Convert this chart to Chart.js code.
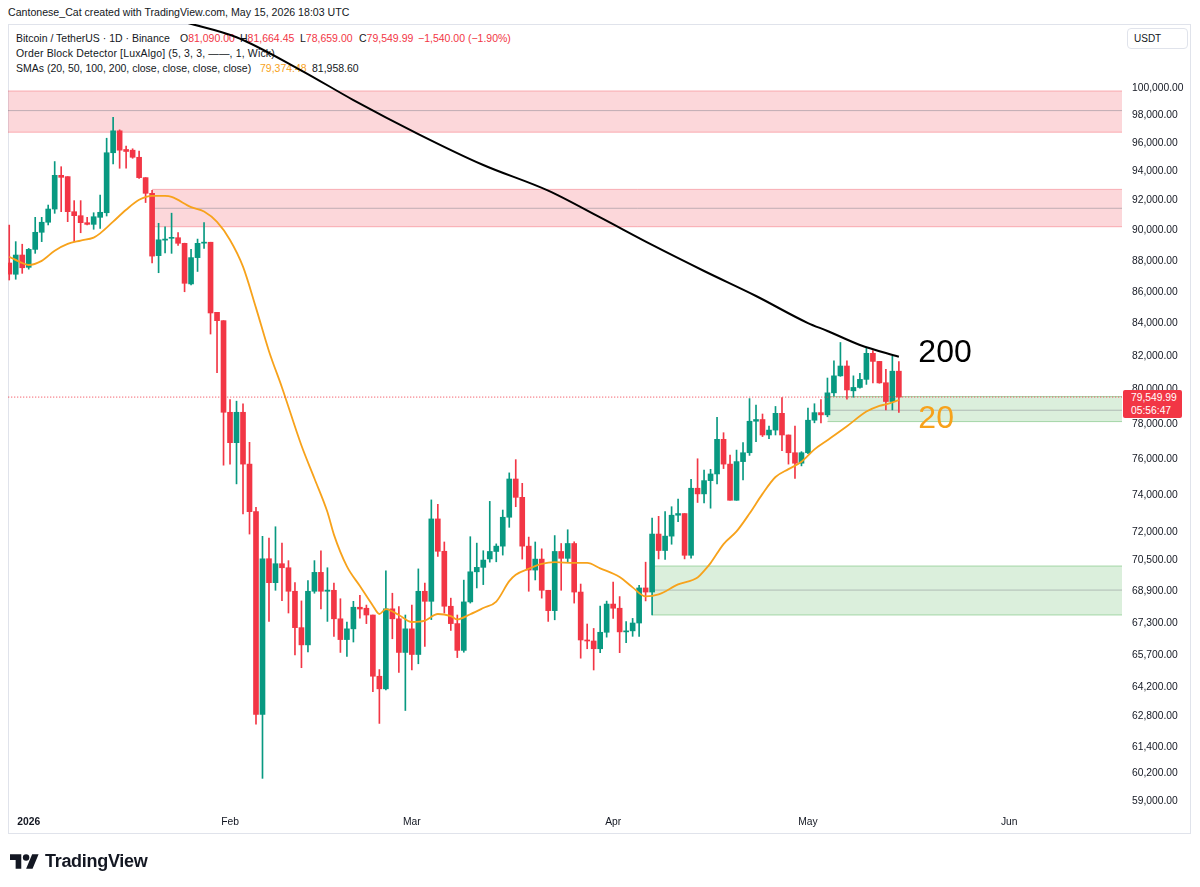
<!DOCTYPE html>
<html>
<head>
<meta charset="utf-8">
<script src="https://cdn.jsdelivr.net/npm/chart.js@4.4.1/dist/chart.umd.min.js"></script>
<style>
html,body{margin:0;padding:0;background:#fff;}
#wrap{position:relative;width:1200px;height:887px;overflow:hidden;font-family:"Liberation Sans",Arial,sans-serif;color:#131722;background:#fff;}
.abs{position:absolute;white-space:nowrap;}
#frame{position:absolute;left:8px;top:24px;width:1183px;height:810px;box-sizing:border-box;border:1px solid #e0e3eb;z-index:0;}
#c{position:absolute;left:0;top:0;z-index:1;}
.under{z-index:0;}
.over{z-index:2;}
.leg{font-size:10.5px;line-height:14px;}
.r{color:#f23645;}
#tag{background:#f23645;color:#fff;font-size:10.3px;line-height:13px;width:59px;height:28px;border-radius:2px;padding:1px 0 0 8px;box-sizing:border-box;}
#usdt{left:1127px;top:28px;width:61px;height:21px;box-sizing:border-box;border:1px solid #e0e3eb;border-radius:4px;font-size:10px;line-height:19px;padding-left:6px;background:#fff;}
</style>
</head>
<body>
<div id="wrap">
  <div class="abs under" style="left:8px;top:5px;font-size:10.6px;line-height:14px;">Cantonese_Cat created with TradingView.com, May 15, 2026 18:03 UTC</div>
  <div id="frame"></div>
  <div class="abs under leg" style="left:16px;top:31px;">Bitcoin / TetherUS · 1D · Binance</div>
  <div class="abs under leg" style="left:180px;top:31px;">O<span class="r" id="vO"></span></div>
  <div class="abs under leg" style="left:240px;top:31px;">H<span class="r" id="vH"></span></div>
  <div class="abs under leg" style="left:300px;top:31px;">L<span class="r" id="vL"></span></div>
  <div class="abs under leg" style="left:359px;top:31px;">C<span class="r" id="vC"></span></div>
  <div class="abs under leg r" style="left:418px;top:31px;" id="vChg"></div>
  <div class="abs under leg" style="left:16px;top:46px;letter-spacing:0.15px;">Order Block Detector [LuxAlgo] (5, 3, 3, ——, 1, Wick)</div>
  <div class="abs under leg" style="left:16px;top:61px;">SMAs (20, 50, 100, 200, close, close, close, close)</div>
  <div class="abs under leg" style="left:260px;top:61px;color:#f7a21b;" id="vS20"></div>
  <div class="abs under leg" style="left:312px;top:61px;" id="vS200"></div>
  <canvas id="c" width="1200" height="887"></canvas>
  <div class="abs over" id="usdt">USDT</div>
  <div class="abs over" id="tag"><div id="tagPrice"></div><div>05:56:47</div></div>
  <div class="abs over" id="ann0" style="font-size:32px;line-height:32px;"></div>
  <div class="abs over" id="ann1" style="font-size:32px;line-height:32px;"></div>
  <div class="abs over" style="left:10px;top:851px;display:flex;align-items:center;">
    <svg width="29" height="15" viewBox="0 4 36 18" style="margin-right:6px;"><path fill="#131722" d="M14 22H7V11H0V4h14v18zM28 22h-8l7.5-18h8L28 22z"/><circle fill="#131722" cx="20" cy="8" r="4"/></svg>
    <span style="font-size:18px;font-weight:bold;letter-spacing:-0.3px;line-height:20px;">TradingView</span>
  </div>
</div>
<script>
// ---------- DATA ----------
const dates = [
'2025-12-29','2025-12-30','2025-12-31',
'2026-01-01','2026-01-02','2026-01-03','2026-01-04','2026-01-05','2026-01-06','2026-01-07','2026-01-08','2026-01-09','2026-01-10',
'2026-01-11','2026-01-12','2026-01-13','2026-01-14','2026-01-15','2026-01-16','2026-01-17','2026-01-18','2026-01-19','2026-01-20',
'2026-01-21','2026-01-22','2026-01-23','2026-01-24','2026-01-25','2026-01-26','2026-01-27','2026-01-28','2026-01-29','2026-01-30','2026-01-31',
'2026-02-01','2026-02-02','2026-02-03','2026-02-04','2026-02-05','2026-02-06','2026-02-07','2026-02-08','2026-02-09','2026-02-10',
'2026-02-11','2026-02-12','2026-02-13','2026-02-14','2026-02-15','2026-02-16','2026-02-17','2026-02-18','2026-02-19','2026-02-20',
'2026-02-21','2026-02-22','2026-02-23','2026-02-24','2026-02-25','2026-02-26','2026-02-27','2026-02-28',
'2026-03-01','2026-03-02','2026-03-03','2026-03-04','2026-03-05','2026-03-06','2026-03-07','2026-03-08','2026-03-09','2026-03-10',
'2026-03-11','2026-03-12','2026-03-13','2026-03-14','2026-03-15','2026-03-16','2026-03-17','2026-03-18','2026-03-19','2026-03-20',
'2026-03-21','2026-03-22','2026-03-23','2026-03-24','2026-03-25','2026-03-26','2026-03-27','2026-03-28','2026-03-29','2026-03-30','2026-03-31',
'2026-04-01','2026-04-02','2026-04-03','2026-04-04','2026-04-05','2026-04-06','2026-04-07','2026-04-08','2026-04-09','2026-04-10',
'2026-04-11','2026-04-12','2026-04-13','2026-04-14','2026-04-15','2026-04-16','2026-04-17','2026-04-18','2026-04-19','2026-04-20',
'2026-04-21','2026-04-22','2026-04-23','2026-04-24','2026-04-25','2026-04-26','2026-04-27','2026-04-28','2026-04-29','2026-04-30',
'2026-05-01','2026-05-02','2026-05-03','2026-05-04','2026-05-05','2026-05-06','2026-05-07','2026-05-08','2026-05-09','2026-05-10',
'2026-05-11','2026-05-12','2026-05-13','2026-05-14','2026-05-15'
];
const opens = [
87850,87120,88370,
87570,88740,89870,90540,91430,93740,93650,91250,90980,90510,
90400,90870,91180,95320,96880,95550,95500,95000,93580,92500,
88330,89350,89470,89510,89140,86500,88200,89150,89210,84700,84180,
78660,76910,78660,75700,73080,62900,70580,69340,70320,70110,
68900,67070,66220,68900,69870,68900,68950,67510,66480,67010,
68090,68040,67700,64700,64100,68010,67510,65850,
67010,65750,68900,68390,72690,70970,68140,67270,65950,68360,
69900,70130,70570,70960,71240,72780,74870,73860,71240,69990,
70560,68950,67920,70960,70600,71380,68860,66460,66410,66030,66840,
68250,68040,66860,66910,67300,69070,68860,71880,71010,71770,
72890,72980,70760,74360,74050,74780,75150,77100,75700,73700,
75840,76340,78140,78240,77350,77630,78600,77350,76340,75750,
76340,78200,78640,78510,79800,80810,81400,79920,80120,80600,
82170,81680,80400,79290,81090
];
const highs = [
90350,89250,89080,
88800,90870,90870,91700,94700,94340,93650,92000,92000,90870,
91180,92380,96350,97860,96950,95800,95600,95430,93580,92700,
90470,90240,91150,89850,89150,88750,89420,90510,89210,84700,84180,
79410,79310,79150,76930,73320,71760,71670,72270,71400,70480,
69340,68410,69450,70480,70990,70110,69320,68520,67350,68390,
68690,68200,67700,65020,69950,68800,68120,67700,
68200,70050,69320,73720,73480,71460,68550,67700,69470,71740,
71400,71000,73640,71360,73170,75210,75950,74630,71720,71460,
71100,68950,71800,71380,72110,71470,69270,67250,67030,68150,68400,
69370,68630,67370,67530,69200,70400,72730,72830,73080,73350,
73770,72980,74850,76000,75370,75410,78370,77480,76210,76490,
76910,79460,79080,78560,77860,79000,79520,77350,77860,76400,
78900,79160,79410,80680,81720,82830,81720,80810,80960,82470,
82330,81680,81200,82000,81664.45
];
const lows = [
86750,86800,87180,
87450,88480,89250,90360,91140,91250,90580,89250,89840,90360,
90070,90130,90960,94530,94230,94230,94930,93530,91870,87850,
87220,88500,88480,89000,86000,86430,87300,88800,83350,81000,75640,
75700,74600,72960,71880,62440,59990,67380,68950,68420,67800,
65730,65110,65870,68800,68010,67380,66640,65850,65660,66360,
67540,67270,63960,62480,64050,66520,64880,63080,
65000,65300,66150,67470,70700,67800,66930,65600,65860,68300,
69070,69240,70400,70420,70770,72240,73350,70560,68900,69480,
68550,67380,67460,68950,70400,68300,65570,66030,65000,65840,66600,
67530,65840,66330,66640,66640,68410,67700,70570,70550,71340,
72540,70570,70610,73580,73550,73270,74600,75450,73700,73700,
74820,76190,76970,77260,77140,77350,76460,75700,74900,75600,
76280,78050,78050,78400,79600,80780,79420,79540,80070,80300,
80390,80370,78800,78800,78659
];
const closes = [
87130,88370,87540,
88740,89870,90540,91430,93740,93600,91250,90980,90510,90400,
90910,91210,95320,96880,95500,95410,95000,93580,92500,88300,
89370,89420,89520,89140,86540,88200,89140,89210,84660,84180,78660,
76910,78660,75700,73080,62900,70580,69340,70320,70110,68900,
67070,66220,68900,69870,68900,68960,67510,66480,67010,68090,
68000,67700,64700,64100,68010,67510,65850,67010,
65750,68900,68390,72690,70970,68140,67270,65950,68360,69900,
70130,70510,70960,71240,72780,74870,73860,71240,69990,70560,
68950,67920,70960,70600,71380,68860,66460,66410,66030,66840,68250,
68040,66860,66910,67300,69070,68860,71880,71010,71770,72890,
72980,70760,74360,74050,74780,75150,77100,75700,73700,75840,
76340,78140,78240,77350,77630,78600,77350,76340,75750,76340,
78200,78640,78510,79800,80810,81400,79970,80120,80600,82170,
81680,80390,79290,81089.99,79549.99
];

const sma20Dates = [
'2025-12-29','2025-12-31','2026-01-01','2026-01-03','2026-01-05','2026-01-07','2026-01-09','2026-01-11','2026-01-12','2026-01-14',
'2026-01-16','2026-01-18','2026-01-20','2026-01-22','2026-01-23','2026-01-26','2026-01-28','2026-01-30','2026-02-01','2026-02-03',
'2026-02-05','2026-02-07','2026-02-09','2026-02-12','2026-02-14','2026-02-16','2026-02-17','2026-02-19','2026-02-21','2026-02-23',
'2026-02-24','2026-02-25','2026-02-27','2026-03-01','2026-03-03','2026-03-05','2026-03-07','2026-03-08','2026-03-10','2026-03-12',
'2026-03-14','2026-03-16','2026-03-17','2026-03-19','2026-03-21','2026-03-23','2026-03-26','2026-03-28','2026-03-30','2026-04-02',
'2026-04-04','2026-04-06','2026-04-08','2026-04-11','2026-04-14','2026-04-15','2026-04-16','2026-04-18','2026-04-20','2026-04-22',
'2026-04-24','2026-04-26','2026-04-28','2026-04-30','2026-05-02','2026-05-04','2026-05-07','2026-05-10','2026-05-12','2026-05-13','2026-05-15'
];
const sma20Values = [
88260,87850,87720,87990,88650,89100,89320,89520,89800,90580,
91380,92060,92330,92320,92250,91560,91260,90560,89360,87610,
84980,82300,80120,76750,74900,73060,71850,70180,69170,68170,
67750,68000,67700,67350,67420,67750,67640,67480,67740,68050,
68380,69420,69750,70060,70310,70400,70360,70360,70080,69630,
69100,68640,68740,69250,69600,69950,70350,71350,72020,72980,
74050,74980,75420,75830,76530,77050,77850,78700,79040,79120,79374.48
];

const sma200Dates = ['2026-01-25','2026-02-02','2026-02-12','2026-02-20','2026-03-02','2026-03-12','2026-03-22','2026-03-30',
  '2026-04-07','2026-04-15','2026-04-23','2026-05-01','2026-05-04','2026-05-09','2026-05-15'];
const sma200Values = [105000,103830,101300,99110,96650,94460,92680,90860,89030,87330,85730,84030,83540,82680,81958.60];

// Order blocks (LuxAlgo): start date, top, bottom, average line
const zoneStarts  = ['2025-12-20','2026-01-20','2026-04-07','2026-05-04'];
const zoneTops    = [99780, 92770, 70200, 79580];
const zoneBottoms = [96780, 90240, 67700, 78120];
const zoneMids    = [98340, 91480, 68960, 78780];
const zoneKinds   = ['bear','bear','bull','bull'];

const yTicks = [59000,60200,61400,62800,64200,65700,67300,68900,70500,72000,74000,76000,78000,80000,
  82000,84000,86000,88000,90000,92000,94000,96000,98000,100000];
const xTickDates  = ['2026-01-01','2026-02-01','2026-03-01','2026-04-01','2026-05-01','2026-06-01'];
const xTickLabels = ['2026','Feb','Mar','Apr','May','Jun'];

const annTexts  = ['200','20'];
const annDates  = ['2026-05-18','2026-05-18'];
const annPrices = [81640, 77750];

// ---------- STYLE ----------
const FONT = '"Liberation Sans", Arial, sans-serif';
const GREEN = '#089981', RED = '#f23645', ORANGE = '#f7a21b', TEXT = '#131722';
const X_MIN = -3.19, X_MAX = 168.36, Y_MIN = 58558, Y_MAX = 104850;

const epoch = Date.parse('2026-01-01');
const dayIndex = s => (Date.parse(s) - epoch) / 86400000;
const fmt = v => Number(v).toLocaleString('en-US', {minimumFractionDigits: 2, maximumFractionDigits: 2});

const xsDay = dates.map(dayIndex);
const colors = closes.map((c, i) => c >= opens[i] ? GREEN : RED);
const last = closes.length - 1;
const xEnd = X_MAX + 5;

const datasets = [];
zoneTops.forEach((top, i) => {
  const x0 = dayIndex(zoneStarts[i]);
  const bull = zoneKinds[i] === 'bull';
  const fillC = bull ? 'rgba(76,175,80,0.2)' : 'rgba(242,54,69,0.2)';
  const lineC = bull ? 'rgba(76,175,80,0.45)' : 'rgba(242,54,69,0.35)';
  datasets.push({type: 'line', data: [{x: x0, y: top}, {x: xEnd, y: top}], borderColor: lineC, borderWidth: 1,
    pointRadius: 0, fill: '+1', backgroundColor: fillC, order: 10, clip: 0});
  datasets.push({type: 'line', data: [{x: x0, y: zoneBottoms[i]}, {x: xEnd, y: zoneBottoms[i]}], borderColor: lineC, borderWidth: 1,
    pointRadius: 0, fill: false, order: 10, clip: 0});
  datasets.push({type: 'line', data: [{x: x0, y: zoneMids[i]}, {x: xEnd, y: zoneMids[i]}], borderColor: 'rgba(120,123,134,0.45)',
    borderWidth: 1, pointRadius: 0, fill: false, order: 9, clip: 0});
});
datasets.push({type: 'bar', data: xsDay.map((x, i) => ({x, y: [lows[i], highs[i]]})), backgroundColor: colors,
  barThickness: 1, grouped: false, order: 6, clip: 0});
datasets.push({type: 'bar', data: xsDay.map((x, i) => ({x, y: [opens[i], closes[i]]})), backgroundColor: colors,
  barThickness: 5, minBarLength: 1, grouped: false, order: 5, clip: 0});
datasets.push({type: 'line', data: sma200Dates.map((d, i) => ({x: dayIndex(d), y: sma200Values[i]})), borderColor: '#000000',
  borderWidth: 2, pointRadius: 0, cubicInterpolationMode: 'monotone', fill: false, order: 3, clip: 0});
datasets.push({type: 'line', data: sma20Dates.map((d, i) => ({x: dayIndex(d), y: sma20Values[i]})), borderColor: ORANGE,
  borderWidth: 1.8, pointRadius: 0, cubicInterpolationMode: 'monotone', fill: false, order: 2, clip: 0});
datasets.push({type: 'line', data: [{x: xsDay[0] - 2, y: closes[last]}, {x: xEnd, y: closes[last]}], borderColor: RED,
  borderWidth: 1, borderDash: [1, 2], pointRadius: 0, fill: false, order: 1, clip: 0});

const chart = new Chart(document.getElementById('c'), {
  type: 'bar',
  data: {datasets},
  options: {
    responsive: false, animation: false, events: [],
    layout: {padding: {left: 8, top: 24, right: 10, bottom: 54}},
    plugins: {legend: {display: false}, tooltip: {enabled: false}},
    scales: {
      x: {
        type: 'linear', min: X_MIN, max: X_MAX, bounds: 'data', offset: false,
        grid: {display: false, drawTicks: false}, border: {display: false},
        afterBuildTicks: s => { s.ticks = xTickDates.map(d => ({value: dayIndex(d)})); },
        afterFit: s => { s.height = 22; },
        ticks: {autoSkip: false, maxRotation: 0, padding: 5, color: TEXT,
          callback: (v, i) => xTickLabels[i],
          font: c => ({family: FONT, size: 10.3, weight: c.index === 0 ? 'bold' : 'normal'})}
      },
      y: {
        type: 'logarithmic', position: 'right', min: Y_MIN, max: Y_MAX, bounds: 'data',
        grid: {display: false, drawTicks: false}, border: {display: false},
        afterBuildTicks: s => { s.ticks = yTicks.map(v => ({value: v})); },
        afterFit: s => { s.width = 68; },
        ticks: {autoSkip: false, padding: 10, color: TEXT, font: {family: FONT, size: 10.3}, callback: v => fmt(v)}
      }
    }
  }
});

// ---------- TEXT OVERLAYS (from data) ----------
document.getElementById('vO').textContent = fmt(opens[last]);
document.getElementById('vH').textContent = fmt(highs[last]);
document.getElementById('vL').textContent = fmt(lows[last]);
document.getElementById('vC').textContent = fmt(closes[last]);
const chg = closes[last] - closes[last - 1];
const pct = chg / closes[last - 1] * 100;
const sign = chg < 0 ? '\u2212' : '+';
document.getElementById('vChg').textContent = sign + fmt(Math.abs(chg)) + ' (' + sign + Math.abs(pct).toFixed(2) + '%)';
document.getElementById('vS20').textContent = fmt(sma20Values[sma20Values.length - 1]);
document.getElementById('vS200').textContent = fmt(sma200Values[sma200Values.length - 1]);

const yS = chart.scales.y, xS = chart.scales.x;
const tag = document.getElementById('tag');
document.getElementById('tagPrice').textContent = fmt(closes[last]);
tag.style.left = (chart.chartArea.right + 1) + 'px';
tag.style.top = (yS.getPixelForValue(closes[last]) - 7.5) + 'px';

annTexts.forEach((t, i) => {
  const el = document.getElementById('ann' + i);
  el.textContent = t;
  el.style.color = i === 0 ? '#000000' : ORANGE;
  el.style.left = xS.getPixelForValue(dayIndex(annDates[i])) + 'px';
  el.style.top = (yS.getPixelForValue(annPrices[i]) - 27) + 'px';
});
</script>
</body>
</html>
